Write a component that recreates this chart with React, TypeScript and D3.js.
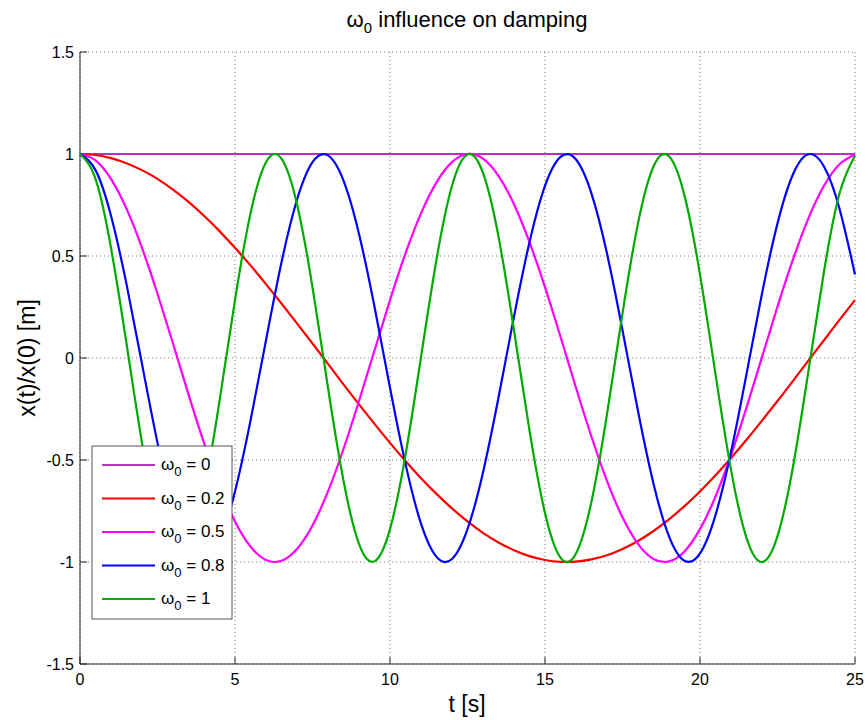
import * as d3 from "d3";

// sample times (s)
const times = d3.range(0, 25.001, 0.5);

const omegaLabels = ["0", "0.2", "0.5", "0.8", "1"];
const colors = ["#b535b5", "#ff0000", "#ff00ff", "#0000ff", "#00aa00"];

// x(t)/x(0) at each sample time
const w0 = times.map(() => 1);
const w02 = [
  1, 0.995, 0.98, 0.955, 0.921, 0.878, 0.825, 0.765, 0.697, 0.622, 0.54, 0.454, 0.362,
  0.267, 0.17, 0.071, -0.029, -0.129, -0.227, -0.323, -0.416, -0.505, -0.589, -0.666,
  -0.737, -0.801, -0.857, -0.904, -0.942, -0.971, -0.99, -0.999, -0.998, -0.987, -0.967,
  -0.936, -0.897, -0.848, -0.791, -0.726, -0.654, -0.575, -0.49, -0.401, -0.307, -0.211,
  -0.112, -0.012, 0.087, 0.187, 0.284,
];
const w05 = [
  1, 0.969, 0.878, 0.732, 0.54, 0.315, 0.071, -0.178, -0.416, -0.628, -0.801, -0.924,
  -0.99, -0.994, -0.936, -0.821, -0.654, -0.446, -0.211, 0.037, 0.284, 0.513, 0.709,
  0.861, 0.96, 1.0, 0.977, 0.893, 0.754, 0.568, 0.347, 0.104, -0.146, -0.386, -0.602,
  -0.781, -0.911, -0.985, -0.997, -0.948, -0.839, -0.679, -0.476, -0.243, 0.004, 0.252,
  0.483, 0.686, 0.844, 0.95, 0.998,
];
const w08 = [
  1, 0.921, 0.697, 0.362, -0.029, -0.416, -0.737, -0.942, -0.998, -0.897, -0.654, -0.307,
  0.087, 0.469, 0.776, 0.96, 0.993, 0.869, 0.608, 0.251, -0.146, -0.519, -0.812, -0.975,
  -0.985, -0.839, -0.561, -0.194, 0.203, 0.568, 0.844, 0.986, 0.973, 0.806, 0.512, 0.136,
  -0.26, -0.616, -0.874, -0.994, -0.958, -0.77, -0.461, -0.079, 0.316, 0.66, 0.901, 0.999,
  0.939, 0.732, 0.409,
];
const w1 = [
  1, 0.878, 0.54, 0.071, -0.416, -0.801, -0.99, -0.936, -0.654, -0.211, 0.284, 0.709,
  0.96, 0.977, 0.754, 0.347, -0.146, -0.602, -0.911, -0.997, -0.839, -0.476, 0.004, 0.483,
  0.844, 0.998, 0.907, 0.595, 0.136, -0.355, -0.76, -0.979, -0.958, -0.703, -0.275, 0.219,
  0.66, 0.939, 0.989, 0.796, 0.409, -0.079, -0.547, -0.882, -1.0, -0.873, -0.533, -0.062,
  0.424, 0.806, 0.991,
];

const series = [w0, w02, w05, w08, w1];
const xTicks = [0, 5, 10, 15, 20, 25];
const yTicks = [-1.5, -1, -0.5, 0, 0.5, 1, 1.5];

const font = "'Liberation Sans', Arial, sans-serif";

export default function App() {
  const left = 80,
    right = 855,
    top = 52,
    bottom = 664;
  const x = d3.scaleLinear().domain([0, 25]).range([left, right]);
  const y = d3.scaleLinear().domain([-1.5, 1.5]).range([bottom, top]);
  const line = d3
    .line<number>()
    .x((d, i) => x(times[i]))
    .y((d) => y(d))
    .curve(d3.curveNatural);

  const lg = { x: 92, y: 446, w: 140, h: 173, row: 33.5 };

  return (
    <svg
      width={867}
      height={720}
      style={{ position: "absolute", left: 0, top: 0, background: "#fff" }}
      fontFamily={font}
    >
      <rect width={867} height={720} fill="#fff" />
      {/* grid */}
      {xTicks.map((t) => (
        <line key={"gx" + t} x1={x(t)} x2={x(t)} y1={top} y2={bottom}
          stroke="#777" strokeWidth={1} strokeDasharray="1 3" />
      ))}
      {yTicks.map((t) => (
        <line key={"gy" + t} x1={left} x2={right} y1={y(t)} y2={y(t)}
          stroke="#777" strokeWidth={1} strokeDasharray="1 3" />
      ))}
      {/* axes */}
      <line x1={left} x2={left} y1={top} y2={bottom} stroke="#222" />
      <line x1={left} x2={right} y1={bottom} y2={bottom} stroke="#222" />
      {xTicks.map((t) => (
        <g key={"tx" + t}>
          <line x1={x(t)} x2={x(t)} y1={bottom} y2={bottom - 7} stroke="#222" />
          <text x={x(t)} y={bottom + 21} fontSize={16} textAnchor="middle" fill="#000">{t}</text>
        </g>
      ))}
      {yTicks.map((t) => (
        <g key={"ty" + t}>
          <line x1={left} x2={left + 7} y1={y(t)} y2={y(t)} stroke="#222" />
          <text x={left - 6} y={y(t) + 5.5} fontSize={16} textAnchor="end" fill="#000">{t}</text>
        </g>
      ))}
      {/* curves */}
      {series.map((s, i) => (
        <path key={"s" + i} d={line(s) || ""} fill="none" stroke={colors[i]} strokeWidth={2.2} />
      ))}
      {/* title & labels */}
      <text x={467} y={27} fontSize={22} textAnchor="middle" fill="#000">
        ω<tspan fontSize={15} dy={6}>0</tspan>
        <tspan dy={-6}> influence on damping</tspan>
      </text>
      <text x={467} y={712} fontSize={23} textAnchor="middle" fill="#000">t [s]</text>
      <text transform={`translate(35,${(top + bottom) / 2}) rotate(-90)`} fontSize={23}
        textAnchor="middle" fill="#000">x(t)/x(0) [m]</text>
      {/* legend */}
      <rect x={lg.x} y={lg.y} width={lg.w} height={lg.h} fill="#fff" stroke="#555" />
      {omegaLabels.map((l, i) => {
        const yy = lg.y + 19 + i * lg.row;
        return (
          <g key={"l" + i}>
            <line x1={102} x2={155} y1={yy} y2={yy} stroke={colors[i]} strokeWidth={2.2} />
            <text x={161} y={yy + 5} fontSize={17} fill="#000">
              ω<tspan fontSize={13} dy={6}>0</tspan>
              <tspan dy={-6}> = {l}</tspan>
            </text>
          </g>
        );
      })}
    </svg>
  );
}
